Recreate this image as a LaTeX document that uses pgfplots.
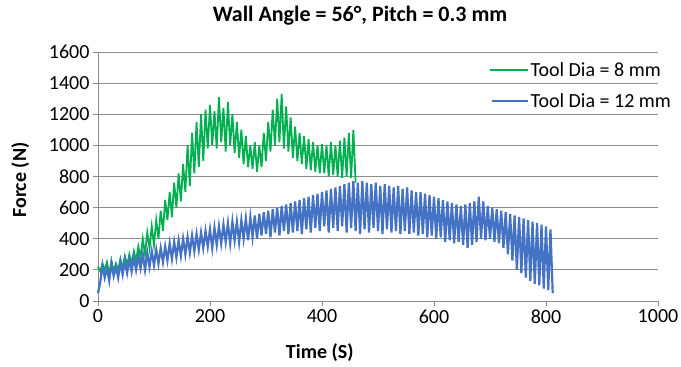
\documentclass[border=0pt]{standalone}
\usepackage{pgfplots}
\pgfplotsset{compat=1.18}
\usepackage{fontspec}
\setmainfont{Carlito}
\definecolor{exgreen}{RGB}{0,176,80}
\definecolor{exblue}{RGB}{68,114,196}
\definecolor{gridgray}{RGB}{140,140,140}
\begin{document}
\begin{tikzpicture}[x=1pt,y=1pt]
\useasboundingbox (-98,-66) rectangle (583,301);
\begin{axis}[
  at={(0,0)}, anchor=south west,
  scale only axis, width=560pt, height=249pt,
  xmin=0, xmax=1000, ymin=0, ymax=1600,
  xtick={0,200,...,1000}, ytick={0,200,...,1600},
  axis x line*=bottom, axis y line*=left,
  axis line style={-, gridgray, line width=0.8pt},
  ymajorgrids, grid style={gridgray, line width=0.8pt},
  tick style={gridgray, line width=0.8pt}, tick align=outside, major tick length=5pt,
  /pgf/number format/assume math mode=true,
  /pgf/number format/1000 sep={},
  tick label style={font=\fontsize{20}{24}\selectfont},
  title={Wall Angle = 56°, Pitch = 0.3 mm},
  title style={font=\fontsize{22}{26}\selectfont\bfseries, at={(axis description cs:0.468,1.12)}, anchor=center},
  xlabel={Time (S)},
  xlabel style={font=\fontsize{20}{24}\selectfont\bfseries, at={(axis description cs:0.396,-0.209)}, anchor=center},
  ylabel={Force (N)},
  ylabel style={font=\fontsize{20}{24}\selectfont\bfseries, at={(axis description cs:-0.139,0.486)}, anchor=center},
  clip=false,
]
\addplot[exgreen, line width=1.8pt] coordinates {
(0,220)(4,190)(8,240)(12,200)(16,250)(20,170)(24,260)(28,190)(32,240)(36,200)
(40,270)(44,210)(48,290)(52,230)(56,300)(60,240)(64,320)(68,260)(72,350)(76,280)
(80,400)(84,300)(88,440)(92,340)(96,480)(100,360)(104,520)(108,400)(112,580)(116,450)
(120,650)(124,520)(128,700)(132,540)(136,760)(140,600)(144,820)(148,640)(152,880)(156,700)
(160,1000)(164,740)(168,1080)(172,820)(176,1150)(180,860)(184,1200)(188,900)(192,1230)(196,980)
(200,1260)(204,1000)(208,1220)(212,980)(216,1310)(220,1020)(224,1240)(228,960)(232,1280)(236,1000)
(240,1200)(244,950)(248,1150)(252,920)(256,1100)(260,880)(264,1060)(268,860)(272,1000)(276,850)
(280,1020)(284,830)(288,1000)(292,860)(296,1080)(300,900)(304,1150)(308,960)(312,1230)(316,1000)
(320,1300)(324,1020)(328,1330)(332,980)(336,1250)(340,960)(344,1180)(348,920)(352,1120)(356,900)
(360,1080)(364,880)(368,1060)(372,850)(376,1040)(380,840)(384,1020)(388,830)(392,1000)(396,820)
(400,1010)(404,820)(408,1000)(412,800)(416,1020)(420,810)(424,1000)(428,800)(432,1030)(436,790)
(440,1050)(444,800)(448,1080)(452,790)(456,1100)(460,760)
};
\addplot[exblue, line width=2.2pt] coordinates {
(0,50)(4,120)(8,230)(12,150)(16,210)(20,130)(24,240)(28,160)(32,220)(36,150)
(40,250)(44,170)(48,260)(52,180)(56,270)(60,190)(64,280)(68,200)(72,290)(76,210)
(80,300)(84,200)(88,310)(92,220)(96,320)(100,230)(104,330)(108,240)(112,340)(116,250)
(120,350)(124,260)(128,370)(132,270)(136,380)(140,280)(144,390)(148,290)(152,400)(156,300)
(160,410)(164,310)(168,420)(172,320)(176,430)(180,330)(184,440)(188,340)(192,450)(196,350)
(200,460)(204,340)(208,470)(212,360)(216,480)(220,370)(224,490)(228,380)(232,500)(236,370)
(240,510)(244,390)(248,510)(252,380)(256,520)(260,400)(264,530)(268,390)(272,540)(276,410)
(280,550)(284,400)(288,560)(292,420)(296,570)(300,430)(304,580)(308,410)(312,590)(316,440)
(320,600)(324,420)(328,610)(332,450)(336,620)(340,430)(344,630)(348,440)(352,640)(356,450)
(360,650)(364,430)(368,660)(372,460)(376,670)(380,440)(384,680)(388,470)(392,690)(396,450)
(400,700)(404,480)(408,710)(412,440)(416,720)(420,470)(424,730)(428,450)(432,740)(436,480)
(440,750)(444,440)(448,760)(452,470)(456,770)(460,450)(464,760)(468,430)(472,770)(476,460)
(480,760)(484,440)(488,750)(492,470)(496,760)(500,450)(504,740)(508,430)(512,750)(516,460)
(520,740)(524,440)(528,730)(532,450)(536,740)(540,430)(544,720)(548,450)(552,730)(556,430)
(560,710)(564,440)(568,700)(572,420)(576,700)(580,430)(584,690)(588,410)(592,680)(596,420)
(600,670)(604,400)(608,660)(612,410)(616,650)(620,380)(624,640)(628,390)(632,630)(636,370)
(640,620)(644,380)(648,610)(652,360)(656,620)(660,340)(664,630)(668,360)(672,640)(676,380)
(680,670)(684,400)(688,640)(692,390)(696,610)(700,400)(704,600)(708,380)(712,590)(716,370)
(720,580)(724,340)(728,570)(732,300)(736,560)(740,260)(744,550)(748,200)(752,540)(756,180)
(760,530)(764,150)(768,520)(772,130)(776,510)(780,110)(784,500)(788,100)(792,490)(796,80)
(800,480)(804,70)(808,460)(812,50)
};
\draw[exgreen, line width=1.5pt] (rel axis cs:0.700,0.928) -- (rel axis cs:0.768,0.928);
\node[anchor=west, inner sep=0pt, font=\fontsize{20}{24}\selectfont] at (rel axis cs:0.772,0.928) {Tool Dia = 8 mm};
\draw[exblue, line width=2.5pt] (rel axis cs:0.703,0.803) -- (rel axis cs:0.768,0.803);
\node[anchor=west, inner sep=0pt, font=\fontsize{20}{24}\selectfont] at (rel axis cs:0.772,0.803) {Tool Dia = 12 mm};
\end{axis}
\end{tikzpicture}
\end{document}
